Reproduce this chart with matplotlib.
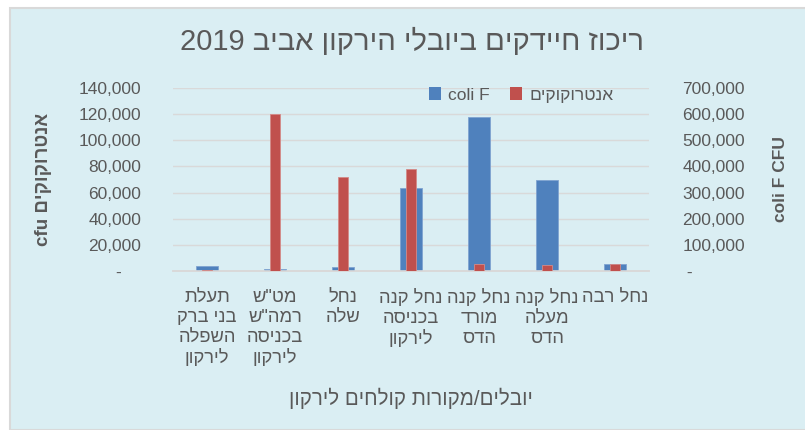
import re
import numpy as np
import matplotlib
matplotlib.use('Agg')
import matplotlib.pyplot as plt
from matplotlib.patches import Rectangle, Patch
from matplotlib.ticker import FuncFormatter, MultipleLocator

plt.rcParams['font.family'] = ['Liberation Sans', 'DejaVu Sans']

# ריכוז חיידקים - נתונים
categories = ['תעלת\nבני ברק\nהשפלה\nלירקון',
              'מט"ש\nרמה"ש\nבכניסה\nלירקון',
              'נחל\nשלה',
              'נחל קנה\nבכניסה\nלירקון',
              'נחל קנה\nמורד\nהדס',
              'נחל קנה\nמעלה\nהדס',
              'נחל רבה']
coli_f = [18000, 6500, 14000, 319000, 589000, 350000, 25500]
entero = [800, 120000, 72000, 78000, 5300, 4300, 5100]

title = 'ריכוז חיידקים ביובלי הירקון אביב 2019'
xlabel = 'יובלים/מקורות קולחים לירקון'
ylabel_left = 'אנטרוקוקים cfu'
ylabel_right = 'coli F CFU'
legend_labels = ['coli F', 'אנטרוקוקים']

BLUE = '#4F81BD'
RED = '#C0504D'
TXT = '#595959'
BG = '#DAEEF3'
GRID = '#D9D9D9'


def vis(s):
    # עברית מימין לשמאל: הופכים את השורה ומחזירים רצפים לטיניים/ספרות לסדרם
    out = []
    for line in s.split('\n'):
        r = line[::-1]
        r = re.sub(r'[A-Za-z0-9]+', lambda m: m.group(0)[::-1], r)
        out.append(r)
    return '\n'.join(out)


fig = plt.figure(figsize=(8.05, 4.30), dpi=100)
W, H = 805, 430
fig.patches.append(Rectangle((10 / W, 0), 1.0, 1 - 8 / H, transform=fig.transFigure,
                             facecolor=BG, edgecolor=GRID, linewidth=1.5, zorder=-5))

ax = fig.add_axes([173 / W, 1 - 271 / H, 476 / W, 183 / H])
ax2 = ax.twinx()
ax.set_zorder(ax2.get_zorder() + 1)
ax.patch.set_visible(False)
ax2.patch.set_visible(False)

x = np.arange(len(categories))
ax2.bar(x, coli_f, width=0.31, color=BLUE, edgecolor='#7FA3D0', linewidth=0.6, zorder=3)
ax.bar(x, entero, width=0.16, color=RED, edgecolor='#D48A88', linewidth=0.6, zorder=3)

ax.set_xlim(-0.5, len(categories) - 0.5)
ax.set_ylim(0, 140000)
ax2.set_ylim(0, 700000)
ax.yaxis.set_major_locator(MultipleLocator(20000))
ax2.yaxis.set_major_locator(MultipleLocator(100000))

ax2.set_axisbelow(True)
ax2.grid(axis='y', color=GRID, linewidth=1.0)
ax.grid(False)

fmt_l = FuncFormatter(lambda v, p: '-    ' if v == 0 else f'{v:,.0f}')
fmt_r = FuncFormatter(lambda v, p: ' -' if v == 0 else f'{v:,.0f}')
ax.yaxis.set_major_formatter(fmt_l)
ax2.yaxis.set_major_formatter(fmt_r)

for a in (ax, ax2):
    for sp in ('left', 'right', 'top'):
        a.spines[sp].set_visible(False)
    a.spines['bottom'].set_color(GRID)
    a.spines['bottom'].set_linewidth(1.2)
    a.tick_params(axis='y', length=0, labelsize=12.5, labelcolor=TXT)

ax.tick_params(axis='y', pad=23)
ax2.tick_params(axis='y', pad=24)

ax.set_xticks(x)
ax.set_xticklabels([vis(c) for c in categories], fontsize=13.2, color=TXT,
                   linespacing=1.22, va='top')
ax.tick_params(axis='x', length=0, pad=13)

ax.set_ylabel(vis(ylabel_left), fontsize=13.5, fontweight='bold', color=TXT)
ax.yaxis.set_label_coords(-0.254, 0.5)
ax2.set_ylabel(ylabel_right, fontsize=12.5, fontweight='bold', color=TXT, rotation=90)
ax2.yaxis.set_label_coords(1.26, 0.5)

ax.set_xlabel(vis(xlabel), fontsize=14.8, color=TXT, va='center')
ax.xaxis.set_label_coords(0.5, (271 - 398) / 183)

fig.text(412 / W, 1 - 42 / H, vis(title), fontsize=21, color=TXT, ha='center', va='center')

handles = [Patch(facecolor=BLUE), Patch(facecolor=RED)]
ax.legend(handles, [legend_labels[0], vis(legend_labels[1])], loc='center', ncol=2,
          bbox_to_anchor=(521 / W, 1 - 95 / H), bbox_transform=fig.transFigure,
          frameon=False, fontsize=12.5, labelcolor=TXT, handlelength=0.7, handleheight=0.7,
          handletextpad=0.4, columnspacing=1.2)

fig.savefig('out.png', dpi=100, facecolor='white')
